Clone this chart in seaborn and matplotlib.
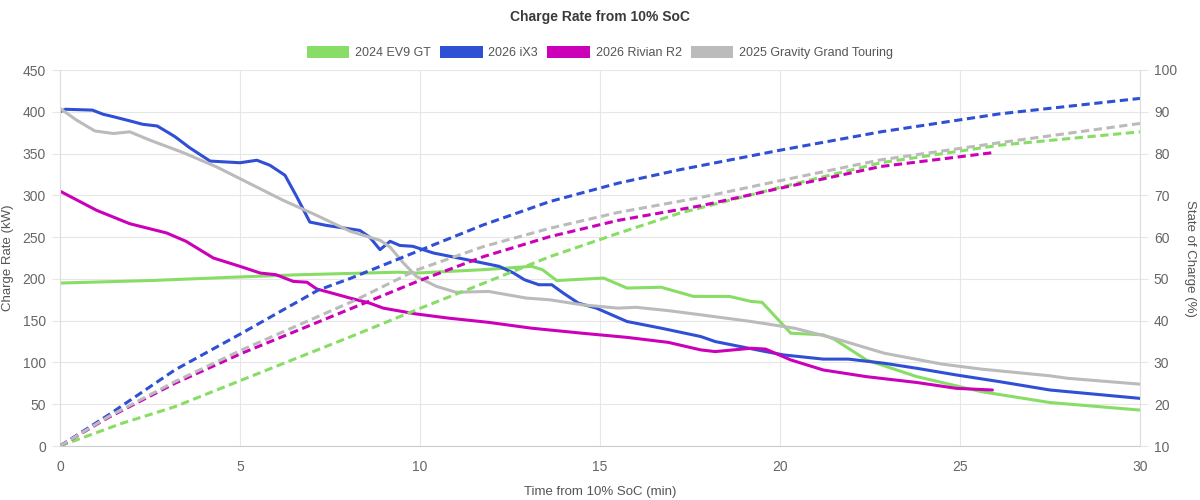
import matplotlib
matplotlib.use("Agg")
import matplotlib.pyplot as plt
from matplotlib.patches import Patch
import seaborn as sns
import pandas as pd

# ---------------- data ----------------
series_names = ["2024 EV9 GT", "2026 iX3", "2026 Rivian R2", "2025 Gravity Grand Touring"]
series_colors = ["#88dd66", "#2f4fd4", "#cc00b8", "#bbbbbb"]

# charge rate (kW) vs time (min)
ev9_t = [0, 2.5, 4.8, 6.67, 9.4, 9.9, 11.75, 13.1, 13.4, 13.8, 15.1, 15.75, 16.7, 17.6, 18.6,
         19.2, 19.5, 20.3, 21.2, 21.5, 22.4, 23.8, 25.0, 25.6, 27.5, 30]
ev9_kw = [195, 198, 202, 205, 208, 207, 211, 215, 211, 198, 201, 189, 190, 179, 179,
          173, 172, 135, 133, 128, 103, 83, 71, 65, 52, 43]

ix3_t = [0, 0.15, 0.9, 1.2, 1.4, 1.95, 2.3, 2.7, 3.05, 3.2, 3.6, 4.17, 5.0, 5.47, 5.83, 6.25,
         6.58, 6.94, 7.4, 7.87, 8.33, 8.6, 8.89, 9.17, 9.44, 9.8, 10.37, 11.3, 12.2, 12.6, 12.9,
         13.3, 13.66, 13.98, 14.4, 14.9, 15.75, 16.7, 17.8, 18.2, 19.6, 20.1, 21.2, 21.9, 22.9,
         23.8, 24.9, 26.1, 27.5, 28.5, 30]
ix3_kw = [400, 403, 402, 397, 395, 389, 385, 383, 374, 370, 357, 341, 339, 342, 336, 324,
          298, 268, 264, 261, 258, 250, 235, 245, 240, 239, 231, 223, 215, 207, 199,
          193, 193, 183, 171, 165, 149, 141, 131, 125, 113, 109, 104, 104, 99,
          93, 85, 77, 67, 63, 57]

r2_t = [0, 1.02, 1.94, 2.96, 3.5, 4.26, 5.0, 5.56, 6.0, 6.48, 6.86, 7.13, 8.06, 8.6, 8.98,
        9.9, 10.8, 11.9, 13.1, 14.5, 15.75, 16.9, 17.8, 18.2, 19.2, 19.6, 20.3, 21.2, 22.4,
        23.8, 24.9, 25.9]
r2_kw = [305, 282, 266, 255, 245, 225, 215, 207, 205, 197, 196, 188, 177, 171, 165,
         158, 153, 148, 141, 135, 130, 124, 115, 113, 117, 116, 103, 91, 83,
         76, 69, 67]

grav_t = [0, 0.46, 0.97, 1.48, 1.94, 2.5, 3.43, 4.35, 5.46, 6.2, 7.13, 8.06, 8.9, 9.17, 9.54,
          9.9, 10.46, 11.0, 11.9, 12.96, 13.6, 14.5, 15.5, 16.0, 16.9, 17.8, 19.2, 20.4, 21.5,
          22.9, 24.5, 25.6, 27.5, 28.0, 30]
grav_kw = [404, 390, 377, 374, 376, 366, 351, 334, 310, 294, 276, 257, 246, 238, 219,
           203, 191, 184, 185, 177, 175, 169, 165, 166, 162, 157, 149, 141, 129,
           111, 98, 92, 84, 81, 74]

# state of charge (%) vs time (min)
ev9_soc_t = [0, 1.71, 3.19, 5.05, 8.2, 9.9, 11.75, 13.6, 15.5, 17.2, 20, 22.8, 26.1, 30]
ev9_soc = [10, 15.4, 19.4, 25.8, 36.6, 42.6, 48.9, 55.3, 60.9, 65.7, 71.9, 77.8, 82.0, 85.2]

ix3_soc_t = [0, 1.34, 3.19, 5.05, 7.17, 8.06, 9.9, 11.75, 13.6, 15.5, 17.2, 20, 22.8, 26.1, 30]
ix3_soc = [10, 17.4, 28.2, 37.0, 47.3, 50.1, 56.5, 62.9, 68.5, 72.9, 76.1, 80.8, 85.2, 89.5, 93.2]

r2_soc_t = [0, 1.34, 3.19, 5.05, 8.2, 9.9, 11.75, 13.6, 15.5, 17.8, 20, 22.8, 25.9]
r2_soc = [10, 16.8, 25.0, 32.2, 43.3, 49.3, 55.3, 60.1, 64.0, 67.5, 71.7, 76.9, 80.2]

grav_soc_t = [0, 1.34, 3.19, 5.05, 8.2, 9.9, 11.75, 13.6, 15.5, 17.8, 20, 22.8, 26.1, 30]
grav_soc = [10, 17.0, 25.4, 33.0, 44.9, 52.1, 57.7, 62.1, 65.9, 69.5, 73.5, 78.5, 82.6, 87.2]

x_ticks = [0, 5, 10, 15, 20, 25, 30]
kw_ticks = [0, 50, 100, 150, 200, 250, 300, 350, 400, 450]
soc_ticks = [10, 20, 30, 40, 50, 60, 70, 80, 90, 100]

# ---------------- frames ----------------
power = [(ev9_t, ev9_kw), (ix3_t, ix3_kw), (r2_t, r2_kw), (grav_t, grav_kw)]
soc = [(ev9_soc_t, ev9_soc), (ix3_soc_t, ix3_soc), (r2_soc_t, r2_soc), (grav_soc_t, grav_soc)]
pw_df = pd.concat([pd.DataFrame({"t": t, "v": v, "car": n}) for (t, v), n in zip(power, series_names)])
soc_df = pd.concat([pd.DataFrame({"t": t, "v": v, "car": n}) for (t, v), n in zip(soc, series_names)])
palette = dict(zip(series_names, series_colors))

# ---------------- figure ----------------
sns.set_style("white")
plt.rcParams["font.family"] = ["Liberation Sans", "DejaVu Sans"]

fig = plt.figure(figsize=(12, 5), dpi=100)
ax = fig.add_axes([0.05, 0.108, 0.90, 0.752])
ax2 = ax.twinx()

sns.lineplot(data=pw_df, x="t", y="v", hue="car", palette=palette, ax=ax,
             linewidth=2.2, legend=False, sort=True, estimator=None)
sns.lineplot(data=soc_df, x="t", y="v", hue="car", palette=palette, ax=ax2,
             linewidth=2.2, legend=False, sort=True, estimator=None)
for ln in ax2.get_lines():
    ln.set_linestyle((0, (2.7, 1.5)))

grid_c = "#e6e6e6"
tick_c = "#666666"
ax.set_xlim(0, 30)
ax.set_ylim(0, 450)
ax2.set_ylim(10, 100)
ax.set_xticks(x_ticks)
ax.set_yticks(kw_ticks)
ax2.set_yticks(soc_ticks)
ax.grid(True, color=grid_c, linewidth=0.8)
ax2.grid(False)
ax.set_axisbelow(True)

for a in (ax, ax2):
    for s in a.spines.values():
        s.set_visible(False)
ax.spines["bottom"].set_visible(True)
ax.spines["bottom"].set_color("#cccccc")
ax.spines["left"].set_visible(True)
ax.spines["left"].set_color("#dddddd")
ax2.spines["right"].set_visible(True)
ax2.spines["right"].set_color("#dddddd")

ax.tick_params(axis="both", colors=grid_c, labelcolor=tick_c, labelsize=10, length=6, width=0.8, pad=4)
ax2.tick_params(axis="y", colors=grid_c, labelcolor=tick_c, labelsize=10, length=6, width=0.8, pad=4)

ax.set_xlabel("Time from 10% SoC (min)", fontsize=9.5, color="#555555", labelpad=9)
ax.set_ylabel("Charge Rate (kW)", fontsize=9.5, color="#555555", labelpad=6)
ax2.set_ylabel("State of Charge (%)", fontsize=9.5, color="#555555", rotation=270, labelpad=14)

fig.text(0.5, 0.965, "Charge Rate from 10% SoC", ha="center", va="center",
         fontsize=10, fontweight="bold", color="#3a3a3a")

handles = [Patch(facecolor=c, edgecolor="none", label=n) for n, c in zip(series_names, series_colors)]
fig.legend(handles=handles, loc="center", bbox_to_anchor=(0.5, 0.895), ncol=4, frameon=False,
           fontsize=9, handlelength=3.4, handleheight=1.15, handletextpad=0.45, columnspacing=0.75,
           labelcolor="#555555")

fig.savefig("out.png", dpi=100)
